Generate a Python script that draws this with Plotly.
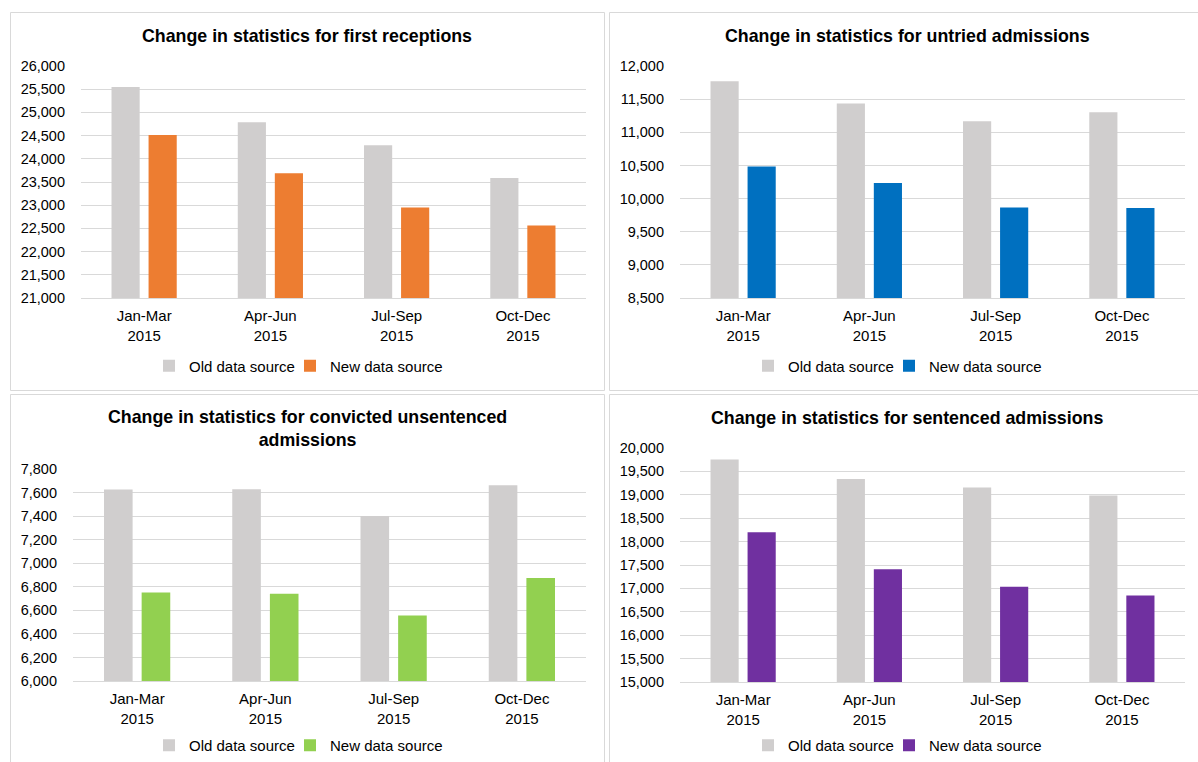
import plotly.graph_objects as go

W, H = 1198, 762

categories = ["Jan-Mar<br>2015", "Apr-Jun<br>2015", "Jul-Sep<br>2015", "Oct-Dec<br>2015"]

titles = [
    "Change in statistics for first receptions",
    "Change in statistics for untried admissions",
    "Change in statistics for convicted unsentenced<br>admissions",
    "Change in statistics for sentenced admissions",
]

series_names = ["Old data source", "New data source"]

first_old = [25550, 24786, 24293, 23586]
first_new = [24514, 23688, 22950, 22564]
untried_old = [11769, 11435, 11166, 11302]
untried_new = [10485, 10236, 9864, 9859]
convicted_old = [7626, 7628, 7400, 7662]
convicted_new = [6752, 6740, 6557, 6874]
sentenced_old = [19756, 19335, 19158, 18986]
sentenced_new = [18200, 17407, 17036, 16850]

y_ranges = [[21000, 26000], [8500, 12000], [6000, 7800], [15000, 20000]]
y_dticks = [500, 500, 200, 500]

old_color = "#D0CECE"
new_colors = ["#ED7D31", "#0070C0", "#92D050", "#7030A0"]

# pixel layout: (plot x0, x1, y_top, y_bottom), panel box, title centre, legend text starts
plots = [
    (81, 586, 66, 298),
    (680, 1185, 66, 298),
    (73, 586, 469, 681),
    (680, 1185, 448, 682),
]
boxes = [
    (10.5, 604.5, 12.5, 390.5),
    (609.5, 1204, 12.5, 390.5),
    (10.5, 604.5, 394.5, 770),
    (609.5, 1204, 394.5, 770),
]
title_xy = [(307, 36), (907, 36), (307.5, 428), (907, 418)]
legend_text_x = [(189, 330), (788, 929), (189, 330), (788, 929)]

series = [
    (first_old, first_new),
    (untried_old, untried_new),
    (convicted_old, convicted_new),
    (sentenced_old, sentenced_new),
]

FONT = "Liberation Sans, Arial, sans-serif"

def px(x):
    return x / W

def py(y):
    return 1 - y / H

fig = go.Figure()
layout = dict(
    width=W, height=H,
    margin=dict(l=0, r=0, t=0, b=0, autoexpand=False),
    paper_bgcolor="white", plot_bgcolor="white",
    barmode="group", bargap=0.413, bargroupgap=0.24,
    showlegend=True,
    font=dict(family=FONT, size=14, color="#000000"),
    shapes=[], annotations=[],
)

leg_count = 0
for i, (old, new) in enumerate(series):
    n = "" if i == 0 else str(i + 1)
    colors = [old_color, new_colors[i]]
    for j, vals in enumerate((old, new)):
        leg_count += 1
        leg = "legend" if leg_count == 1 else f"legend{leg_count}"
        fig.add_trace(go.Bar(x=categories, y=vals, name=series_names[j],
                             marker=dict(color=colors[j], line=dict(width=0)),
                             xaxis=f"x{n}", yaxis=f"y{n}", legend=leg,
                             showlegend=True))
        if i < 2:
            leg_pos = dict(y=py(366), yanchor="middle")
        else:
            leg_pos = dict(y=0, yanchor="bottom")
        layout[leg] = dict(
            orientation="h", xref="paper", yref="paper",
            x=px(legend_text_x[i][j] - 40), xanchor="left", **leg_pos,
            font=dict(size=15, family=FONT, color="#000000"),
            itemwidth=30, bgcolor="rgba(0,0,0,0)", visible=True,
            itemclick=False, itemdoubleclick=False,
        )
    x0, x1, yt, yb = plots[i]
    layout[f"xaxis{n}"] = dict(
        domain=[px(x0), px(x1)], anchor=f"y{n}",
        showgrid=False, showline=True, linecolor="#D9D9D9", linewidth=1,
        ticks="", tickfont=dict(size=15, family=FONT, color="#000000"),
        ticklabelstandoff=4, fixedrange=True, automargin=False,
    )
    layout[f"yaxis{n}"] = dict(
        domain=[py(yb), py(yt)], anchor=f"x{n}",
        range=y_ranges[i], dtick=y_dticks[i], tick0=0,
        showgrid=True, gridcolor="#D9D9D9", gridwidth=1,
        zeroline=False, showline=False, ticks="",
        tickformat=",d", tickfont=dict(size=14.5, family=FONT, color="#000000"),
        ticklabelstandoff=15, fixedrange=True, automargin=False,
    )
    bx0, bx1, by0, by1 = boxes[i]
    layout["shapes"].append(dict(
        type="rect", xref="paper", yref="paper",
        x0=px(bx0), x1=px(bx1), y0=py(by1), y1=py(by0),
        line=dict(color="#D9D9D9", width=1), fillcolor="rgba(0,0,0,0)", layer="below"))
    tx, ty = title_xy[i]
    layout["annotations"].append(dict(
        text=f"<b>{titles[i]}</b>", xref="paper", yref="paper",
        x=px(tx), y=py(ty),
        xanchor="center", yanchor="middle", showarrow=False,
        font=dict(size=17.8, family=FONT, color="#000000")))

fig.update_layout(**layout)
fig.write_html("out.html")
